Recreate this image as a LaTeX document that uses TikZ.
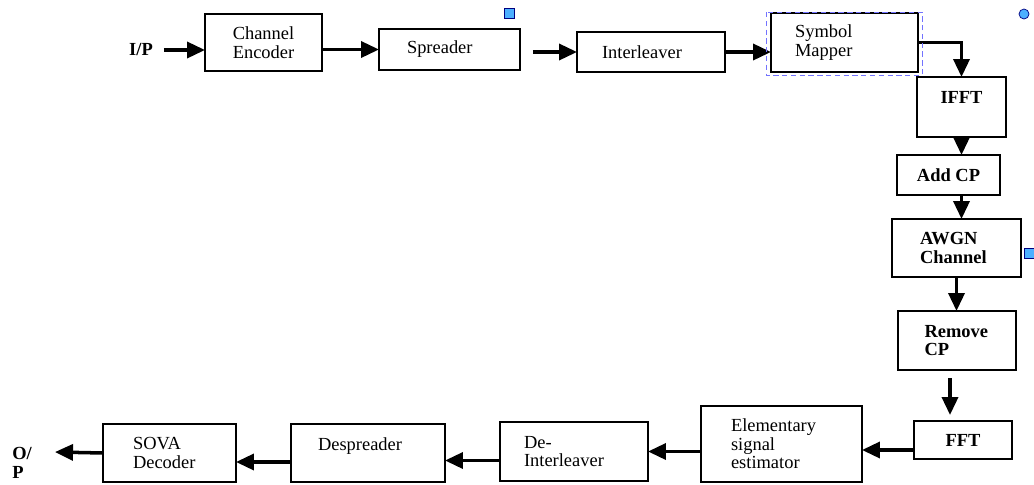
\documentclass[tikz,border=0pt]{standalone}
\usepackage{fontspec}
\setmainfont{Liberation Serif}
\usetikzlibrary{arrows.meta,calc}

\begin{document}
\begin{tikzpicture}
  [
    x=0.02cm, y=-0.02cm,
    font=\fontsize{10.5}{10.5}\selectfont,
    Block/.style={draw, line width=0.9pt, outer sep=0pt, inner sep=1pt, align=left},
    Flow/.style={-{Triangle[length=0.36cm, width=0.32cm]}, line width=2pt},
    Handle/.style={draw=blue!50!black, fill=blue!45!cyan!70!white, line width=0.4pt},
  ]
  \useasboundingbox (0,0) rectangle (1034,484);

  % transmitter chain
  \node [font=\bfseries\fontsize{10.5}{10.5}\selectfont] (ip) at (141,50) {I/P};
  \node [Block, minimum width=2.34cm, minimum height=1.14cm] (enc) at (263.5,42.5) {Channel\\Encoder};
  \node [Block, minimum width=2.82cm, minimum height=0.82cm, text width=1.70cm] (spr) at (449.5,49.5) {Spreader};
  \node [Block, minimum width=2.96cm, minimum height=0.80cm, text width=1.96cm] (intl) at (651,52) {Interleaver};
  \node [Block, minimum width=2.94cm, minimum height=1.18cm, text width=1.98cm] (map) at (844.5,42.5) {Symbol\\Mapper};
  \node [Block, minimum width=1.78cm, minimum height=1.20cm] (ifft) at (961.5,107) {\textbf{IFFT}\\~};
  \node [Block, minimum width=2.06cm, minimum height=0.80cm] (addcp) at (948.5,175) {\textbf{Add CP}};
  \node [Block, minimum width=2.58cm, minimum height=1.16cm, text width=1.46cm] (awgn) at (956.5,248) {\textbf{AWGN}\\\textbf{Channel}};
  \node [Block, minimum width=2.36cm, minimum height=1.18cm, text width=1.30cm] (rcp) at (957,340.5) {\textbf{Remove}\\\textbf{CP}};

  % receiver chain
  \node [Block, minimum width=1.96cm, minimum height=0.76cm] (fft) at (963,440) {\textbf{FFT}};
  \node [Block, minimum width=3.22cm, minimum height=1.52cm, text width=2.02cm] (est) at (781.5,444) {Elementary\\signal\\estimator};
  \node [Block, minimum width=2.96cm, minimum height=1.18cm, text width=2.00cm] (deint) at (574,451.5) {De-\\Interleaver};
  \node [Block, minimum width=3.08cm, minimum height=1.16cm, text width=2.00cm] (desp) at (368,453) {Despreader\\~};
  \node [Block, minimum width=2.66cm, minimum height=1.16cm, text width=1.46cm] (sova) at (169.5,453) {SOVA\\Decoder};
  \node [font=\bfseries\fontsize{10.5}{10.5}\selectfont, align=left] (op) at (22,463) {O/\\P};
  \coordinate (opend) at (55,452);

  \draw [Flow, shorten <=0.1cm] (ip.east) -- (ip.east -| enc.west);
  \draw [Flow] (enc.east |- spr.west) -- (spr.west);
  \draw [Flow, shorten <=0.26cm] (spr.east |- intl.west) -- (intl.west);
  \draw [Flow] (intl.east) -- (intl.east -| map.west);
  \draw [Flow] (map.east) -| (ifft.north);
  \draw [Flow] (ifft.south) -- (ifft.south |- addcp.north);
  \draw [Flow] (addcp.south -| ifft.south) -- (ifft.south |- awgn.north);
  \draw [Flow] (awgn.south) -- (awgn.south |- rcp.north);
  \draw [Flow, shorten <=0.16cm, shorten >=0.12cm] ([xshift=-0.14cm]rcp.south) -- ([xshift=-0.14cm]rcp.south |- fft.north);
  \draw [Flow] ([yshift=-0.2cm]fft.west) -- ([yshift=-0.2cm]fft.west -| est.east);
  \draw [Flow] (est.west |- deint.east) -- (deint.east);
  \draw [Flow] ([yshift=-0.18cm]deint.west) -- ([yshift=-0.18cm]deint.west -| desp.east);
  \draw [Flow] ([yshift=-0.18cm]desp.west) -- ([yshift=-0.18cm]desp.west -| sova.east);
  \draw [Flow] (sova.west) -- (opend);

  % selection marks
  \draw [densely dashed, blue!55, line width=0.5pt] ($(map.north west)+(-5,-1)$) rectangle ($(map.south east)+(4,3)$);
  \draw [Handle] (504,8) rectangle (514,18);
  \draw [Handle] (1024,14) circle (5);
  \draw [Handle] (1024,248) rectangle (1034,258);
\end{tikzpicture}
\end{document}
